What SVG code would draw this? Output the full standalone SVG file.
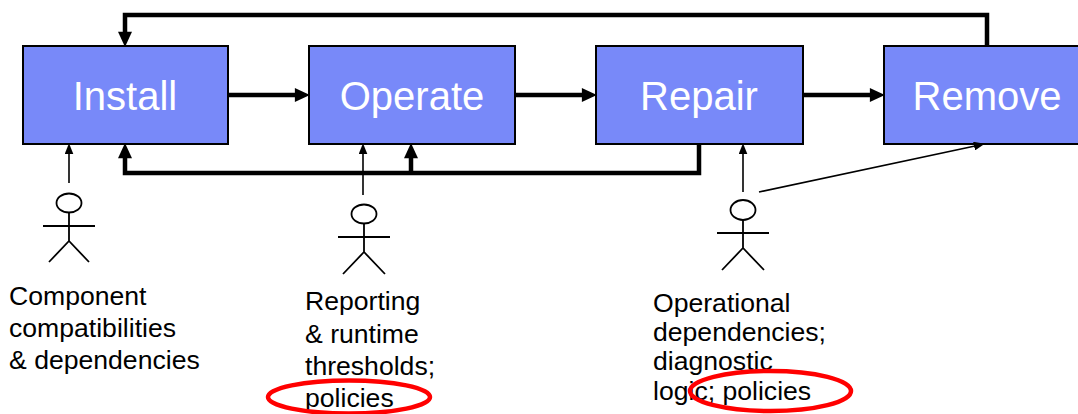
<svg xmlns="http://www.w3.org/2000/svg" width="1078" height="414" viewBox="0 0 1078 414">
<style>
.box{fill:#7889F9;stroke:#000;stroke-width:2}
.lbl{font-family:"Liberation Sans",Arial,sans-serif;font-size:40px;fill:#fff;text-anchor:middle}
.thick{fill:none;stroke:#000;stroke-width:4.5;stroke-linejoin:miter}
.thin{fill:none;stroke:#000;stroke-width:1.6}
.actor{fill:none;stroke:#000;stroke-width:1.8}
.note{font-family:"Liberation Sans",Arial,sans-serif;font-size:26.6px;fill:#000}
.ring{fill:none;stroke:#f00;stroke-width:4.5}
</style>
<defs>
<marker id="ah" markerUnits="userSpaceOnUse" markerWidth="16" markerHeight="14" viewBox="0 0 14 13" refX="2" refY="6.5" orient="auto">
<path d="M0,0 L14,6.5 L0,13 z" fill="#000"/>
</marker>
<marker id="at" markerUnits="userSpaceOnUse" markerWidth="11" markerHeight="9" viewBox="0 0 10 8" refX="2" refY="4" orient="auto">
<path d="M0,0 L10,4 L0,8 z" fill="#000"/>
</marker>
</defs>
<rect width="1078" height="414" fill="#fff"/>
<g id="install"><rect class="box" x="23" y="46" width="205" height="98"/><text class="lbl" x="125" y="110">Install</text></g>
<g id="operate"><rect class="box" x="309" y="46" width="206" height="98"/><text class="lbl" x="412" y="110">Operate</text></g>
<g id="repair"><rect class="box" x="596" y="46" width="207" height="98"/><text class="lbl" x="699" y="110">Repair</text></g>
<g id="remove"><rect class="box" x="884" y="46" width="210" height="98"/><text class="lbl" x="987" y="110">Remove</text></g>
<g id="connectors">
<path class="thick" d="M987 46 V15 H125 V34" marker-end="url(#ah)"/>
<path class="thick" d="M228 95 H297" marker-end="url(#ah)"/>
<path class="thick" d="M515 95 H584" marker-end="url(#ah)"/>
<path class="thick" d="M803 95 H872" marker-end="url(#ah)"/>
<path class="thick" d="M699 144 V173 H125 V156" marker-end="url(#ah)"/>
<path class="thick" d="M411 173 V156" marker-end="url(#ah)"/>
<path class="thin" d="M69 183 V152" marker-end="url(#at)"/>
<path class="thin" d="M363 195 V152" marker-end="url(#at)"/>
<path class="thin" d="M743 192 V152" marker-end="url(#at)"/>
<path class="thin" d="M759 192 L976.2 145.7" marker-end="url(#at)"/>
</g>
<g id="actor-install" class="actor">
<ellipse cx="69" cy="203" rx="12.5" ry="9.5"/>
<path d="M69 212.5 V241 M43 226 H95 M49 262 L69 241 L89 262"/>
</g>
<g id="actor-operate" class="actor">
<ellipse cx="364" cy="214" rx="12.5" ry="9.5"/>
<path d="M364 223.5 V252 M338 237 H390 M343 274 L364 252 L385 274"/>
</g>
<g id="actor-repair" class="actor">
<ellipse cx="743" cy="210" rx="12.5" ry="10"/>
<path d="M743 220 V248 M717 233 H769 M722 270 L743 248 L764 270"/>
</g>
<g id="note-install">
<text class="note" x="9" y="305">Component</text>
<text class="note" x="9" y="337">compatibilities</text>
<text class="note" x="9" y="369">&amp; dependencies</text>
</g>
<g id="note-operate">
<text class="note" x="305" y="310">Reporting</text>
<text class="note" x="305" y="343">&amp; runtime</text>
<text class="note" x="305" y="375">thresholds;</text>
<text class="note" x="305" y="407">policies</text>
<ellipse class="ring" cx="349" cy="397" rx="81" ry="16.5"/>
</g>
<g id="note-repair">
<text class="note" x="653" y="312">Operational</text>
<text class="note" x="653" y="341">dependencies;</text>
<text class="note" x="653" y="370">diagnostic</text>
<text class="note" x="653" y="400">logic; policies</text>
<ellipse class="ring" cx="770.5" cy="391" rx="80.5" ry="20"/>
</g>
</svg>
